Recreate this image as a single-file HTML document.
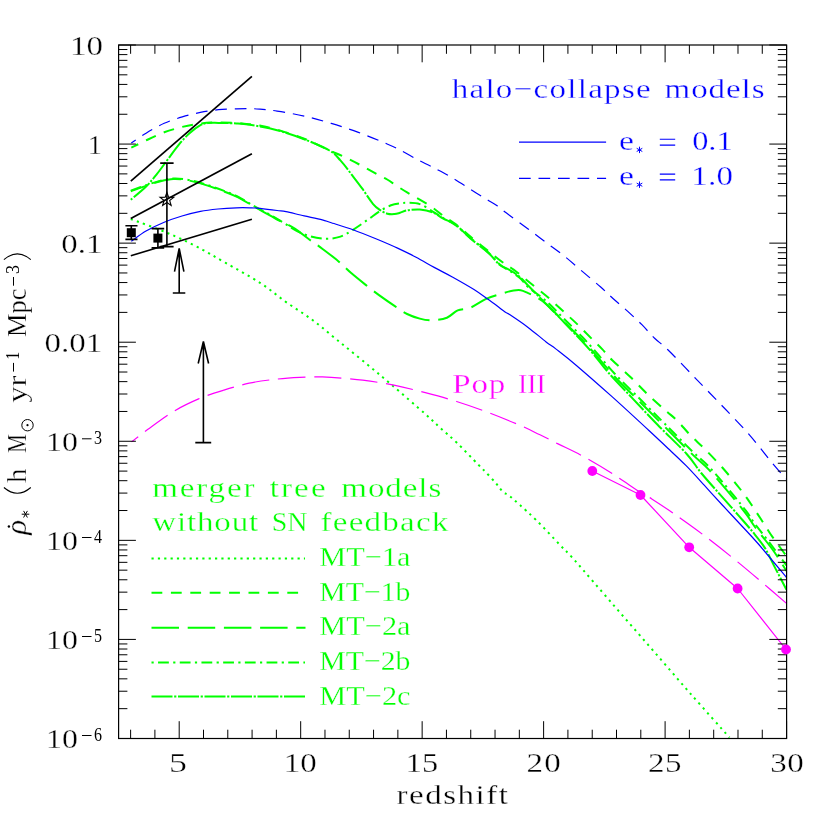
<!DOCTYPE html>
<html><head><meta charset="utf-8"><title>SFR density vs redshift</title>
<style>html,body{margin:0;padding:0;background:#fff}body{width:830px;height:830px;overflow:hidden;font-family:"Liberation Serif",serif}</style></head>
<body>
<svg width="830" height="830" viewBox="0 0 830 830" style="display:block;will-change:transform">
<rect width="830" height="830" fill="#fff"/>
<defs><clipPath id="cp"><rect x="118.6" y="45.0" width="668.0" height="693.5"/></clipPath></defs>
<g fill="none" clip-path="url(#cp)" stroke-linecap="butt" stroke-linejoin="round">
<path d="M130.8,219.0 C137.0,221.3 156.8,228.5 167.8,233.1 C178.8,237.7 187.0,241.6 196.7,246.6 C206.3,251.6 215.1,256.9 225.7,262.9 C236.2,268.9 249.9,276.3 260.0,282.8 C270.1,289.3 277.4,295.9 286.1,302.1 C294.9,308.3 304.1,313.8 312.5,320.0 C320.9,326.2 328.3,332.8 336.7,339.6 C345.1,346.4 353.7,353.3 362.7,360.7 C371.7,368.1 380.5,375.3 390.9,384.2 C401.3,393.1 417.1,406.8 425.3,414.0 C433.5,421.2 434.8,422.9 440.0,427.7 C445.2,432.4 450.2,436.3 456.6,442.5 C463.0,448.7 473.4,459.7 478.6,465.0 C483.8,470.3 484.9,471.2 488.0,474.5 C491.1,477.8 494.5,481.6 497.0,484.5 C499.5,487.4 501.0,490.2 503.0,492.0 C505.0,493.8 506.3,493.4 509.0,495.5 C511.7,497.6 514.7,500.4 519.3,504.5 C523.9,508.6 529.6,513.5 536.4,520.3 C543.2,527.0 553.6,538.3 560.0,545.0 C566.4,551.7 566.1,550.7 575.0,560.7 C583.9,570.7 600.6,590.3 613.5,605.1 C626.4,619.9 639.2,634.6 652.1,649.4 C665.0,664.2 677.7,679.1 690.6,693.8 C703.5,708.5 723.0,730.2 729.5,737.5" stroke="#00ff00" stroke-width="2" stroke-dasharray="2.2 4.3"/>
<path d="M131.3,147.7 C133.8,146.5 140.6,143.0 146.1,140.4 C151.6,137.8 158.2,134.6 164.2,132.3 C170.2,130.1 176.3,128.4 182.3,126.9 C188.3,125.5 194.4,124.3 200.4,123.6 C206.4,122.8 212.4,122.5 218.4,122.4 C224.4,122.3 231.2,122.6 236.5,122.9 C241.8,123.2 246.1,123.8 250.0,124.3 C253.9,124.8 255.5,124.7 260.0,125.6 C264.5,126.5 269.7,127.5 277.1,129.7 C284.5,131.9 295.8,135.4 304.2,138.7 C312.6,142.0 321.1,146.6 327.7,149.6 C334.3,152.6 338.9,154.4 344.0,156.8 C349.1,159.2 353.0,161.1 358.4,164.0 C363.8,166.9 371.7,171.4 376.5,174.0 C381.3,176.6 383.9,177.6 387.2,179.5 C390.5,181.4 393.1,183.5 396.4,185.7 C399.7,187.8 401.7,189.2 407.1,192.4 C412.5,195.6 422.8,201.1 428.8,205.0 C434.8,208.9 438.5,212.3 443.3,215.8 C448.1,219.3 453.2,222.3 457.7,225.8 C462.2,229.3 465.3,232.4 470.4,236.6 C475.5,240.8 483.0,246.8 488.4,251.1 C493.8,255.4 498.7,259.4 502.9,262.5 C507.1,265.6 509.4,266.5 513.6,269.6 C517.8,272.7 522.7,276.9 528.1,281.3 C533.5,285.7 540.1,290.7 546.1,295.8 C552.1,300.9 558.8,307.1 564.2,312.1 C569.6,317.1 573.9,320.9 578.7,325.6 C583.5,330.3 589.2,336.2 593.1,340.1 C597.0,344.0 599.0,345.8 602.2,349.1 C605.4,352.5 607.6,355.6 612.3,360.2 C617.0,364.8 624.4,371.2 630.4,377.0 C636.4,382.8 642.4,389.4 648.4,395.1 C654.4,400.8 661.7,407.1 666.5,411.3 C671.3,415.5 673.2,416.6 677.1,420.5 C681.0,424.4 685.5,430.1 690.0,434.8 C694.5,439.5 698.8,443.1 704.2,448.5 C709.6,453.9 716.2,460.7 722.3,467.5 C728.3,474.3 735.8,483.5 740.5,489.5 C745.2,495.5 747.2,498.6 750.6,503.5 C754.0,508.4 757.3,513.6 760.7,518.8 C764.1,524.0 767.4,529.5 770.8,534.5 C774.2,539.5 778.3,544.9 780.9,548.5 C783.5,552.1 785.6,554.8 786.5,556.0" stroke="#00ff00" stroke-width="2" stroke-dasharray="10.8 8.6" stroke-dashoffset="3"/>
<path d="M130.8,191.2 C133.4,190.3 141.1,187.5 146.1,185.8 C151.1,184.2 156.1,182.4 160.6,181.3 C165.1,180.2 169.1,179.3 173.3,179.1 C177.5,178.9 181.4,179.3 185.9,180.0 C190.4,180.7 195.0,181.8 200.4,183.4 C205.8,185.0 212.4,187.2 218.4,189.4 C224.4,191.6 230.6,193.8 236.5,196.6 C242.4,199.4 248.3,203.4 253.6,206.4 C258.9,209.4 264.1,212.1 268.0,214.3 C271.9,216.5 274.1,217.9 277.1,219.5 C280.1,221.1 283.1,222.1 286.1,223.7 C289.1,225.3 291.3,226.2 295.2,228.9 C299.1,231.6 305.1,236.4 309.6,239.7 C314.1,243.0 317.5,245.1 322.3,248.7 C327.1,252.3 333.8,257.3 338.6,261.4 C343.4,265.5 346.7,269.2 351.2,273.1 C355.7,277.0 360.9,281.1 365.7,284.9 C370.5,288.7 375.3,292.4 380.1,295.9 C384.9,299.4 390.0,302.9 394.5,305.9 C399.0,308.9 402.9,311.9 407.1,314.0 C411.3,316.1 415.6,317.5 419.8,318.6 C424.0,319.7 427.9,320.5 432.4,320.4 C436.9,320.2 442.7,319.4 446.9,317.7 C451.1,316.0 453.8,312.1 457.7,310.4 C461.6,308.7 465.6,309.6 470.4,307.7 C475.2,305.8 481.2,301.1 486.6,298.7 C492.0,296.3 498.4,294.7 502.9,293.3 C507.4,291.9 510.7,291.0 513.7,290.5 C516.7,290.0 518.4,289.8 520.8,290.2 C523.2,290.6 525.7,292.1 528.1,293.1 C530.5,294.2 532.0,294.7 535.0,296.5 C538.0,298.3 541.2,299.8 546.1,304.0 C551.0,308.2 558.2,316.0 564.2,322.0 C570.2,328.0 577.3,334.8 582.3,340.0 C587.3,345.2 588.8,346.9 594.2,353.0 C599.6,359.1 606.9,368.3 614.5,376.5 C622.1,384.7 631.6,393.6 640.0,402.0 C648.4,410.4 656.3,418.3 665.0,427.0 C673.7,435.7 685.0,447.2 692.4,454.4 C699.8,461.6 702.7,463.1 709.3,470.1 C715.9,477.1 726.0,489.2 732.2,496.6 C738.4,504.0 743.0,509.9 746.6,514.7 C750.2,519.5 751.3,521.9 753.9,525.5 C756.5,529.1 758.9,531.9 762.3,536.3 C765.7,540.7 770.3,546.2 774.3,552.0 C778.3,557.8 784.5,567.8 786.5,571.0" stroke="#00ff00" stroke-width="2" stroke-dasharray="27.5 8.7" stroke-dashoffset="11.7"/>
<path d="M130.8,190.6 C133.4,189.7 141.1,186.8 146.1,185.2 C151.1,183.5 156.1,181.8 160.6,180.7 C165.1,179.6 169.1,178.7 173.3,178.5 C177.5,178.3 181.4,178.7 185.9,179.4 C190.4,180.1 195.0,181.2 200.4,182.8 C205.8,184.4 212.4,186.6 218.4,188.8 C224.4,191.0 230.6,193.2 236.5,196.0 C242.4,198.8 248.3,202.9 253.6,205.8 C258.9,208.8 264.1,211.5 268.0,213.7 C271.9,215.9 274.1,217.1 277.1,218.9 C280.1,220.7 283.1,222.4 286.1,224.3 C289.1,226.2 291.3,228.2 295.2,230.2 C299.1,232.2 304.5,234.7 309.6,236.1 C314.7,237.5 320.8,238.7 325.9,238.8 C331.0,238.9 335.9,238.1 340.4,236.6 C344.9,235.1 348.5,232.6 353.0,229.8 C357.5,227.0 363.0,223.1 367.5,219.9 C372.0,216.8 376.2,213.3 380.1,210.9 C384.0,208.5 387.7,206.6 391.0,205.3 C394.3,204.1 397.3,203.8 400.0,203.4 C402.7,203.0 403.8,202.7 407.1,202.8 C410.4,202.9 415.6,202.7 419.8,204.1 C424.0,205.5 428.5,209.0 432.4,211.3 C436.3,213.6 439.4,215.6 443.3,218.0 C447.2,220.4 451.4,222.2 455.9,225.5 C460.4,228.8 465.0,233.5 470.4,238.0 C475.8,242.5 483.6,248.2 488.4,252.5 C493.2,256.8 496.3,261.2 499.3,264.0 C502.3,266.8 504.2,267.5 506.5,269.0 C508.8,270.5 510.6,271.3 513.0,273.0 C515.4,274.7 518.5,276.7 521.0,279.0 C523.5,281.3 523.9,283.3 528.1,287.0 C532.3,290.7 540.1,295.7 546.1,301.0 C552.1,306.3 558.2,313.0 564.2,319.0 C570.2,325.0 577.3,331.8 582.3,337.0 C587.3,342.2 588.8,343.9 594.2,350.0 C599.6,356.1 606.9,365.3 614.5,373.5 C622.1,381.7 631.6,390.6 640.0,399.0 C648.4,407.4 656.3,415.3 665.0,424.0 C673.7,432.7 685.0,444.2 692.4,451.4 C699.8,458.6 702.7,460.1 709.3,467.1 C715.9,474.1 726.0,486.2 732.2,493.6 C738.4,501.0 743.0,506.9 746.6,511.7 C750.2,516.5 751.3,518.9 753.9,522.5 C756.5,526.1 758.9,528.9 762.3,533.3 C765.7,537.7 770.3,543.6 774.3,549.0 C778.3,554.4 784.5,562.8 786.5,565.5" stroke="#00ff00" stroke-width="2" stroke-dasharray="10.8 4.35 2.2 4.35"/>
<path d="M130.8,199.7 C133.4,197.5 141.7,190.8 146.1,186.5 C150.5,182.2 153.4,178.4 157.0,173.9 C160.6,169.4 164.2,164.2 167.8,159.4 C171.4,154.6 175.1,149.3 178.7,144.9 C182.3,140.5 185.9,136.5 189.5,133.2 C193.1,129.9 197.4,126.8 200.4,125.1 C203.4,123.4 204.6,123.5 207.6,123.1 C210.6,122.7 213.6,122.9 218.4,122.9 C223.2,123.0 231.2,123.1 236.5,123.4 C241.8,123.7 243.2,123.7 250.0,124.8 C256.8,125.9 268.1,127.8 277.1,130.2 C286.1,132.6 295.5,135.8 304.2,139.2 C312.9,142.6 323.5,147.0 329.5,150.5 C335.5,154.0 336.8,156.5 340.4,160.4 C344.0,164.3 347.6,169.3 351.2,174.0 C354.8,178.7 358.5,183.4 362.1,188.4 C365.7,193.4 369.9,200.2 372.9,203.8 C375.9,207.4 377.7,208.4 380.1,210.1 C382.5,211.8 385.0,213.0 387.4,213.7 C389.8,214.4 392.5,214.2 394.6,214.1 C396.7,213.9 397.9,213.4 400.0,212.8 C402.1,212.2 403.8,211.0 407.1,210.4 C410.4,209.8 415.6,209.2 419.8,209.5 C424.0,209.8 428.5,210.7 432.4,212.2 C436.3,213.7 439.4,216.5 443.3,218.6 C447.2,220.7 451.4,221.6 455.9,224.9 C460.4,228.2 465.0,233.7 470.4,238.4 C475.8,243.1 483.6,248.5 488.4,252.9 C493.2,257.3 496.3,262.0 499.3,264.6 C502.3,267.2 504.2,267.1 506.5,268.3 C508.8,269.5 510.6,270.4 513.0,272.0 C515.4,273.6 518.5,275.8 521.0,278.0 C523.5,280.2 523.9,281.2 528.1,285.5 C532.3,289.8 540.1,297.8 546.1,304.0 C552.1,310.2 558.2,316.2 564.2,322.5 C570.2,328.8 577.3,336.1 582.3,341.5 C587.3,346.9 589.8,349.8 594.2,355.0 C598.6,360.2 602.4,365.9 608.7,373.0 C615.0,380.1 623.6,388.9 631.8,397.6 C640.0,406.3 648.6,415.6 657.8,425.0 C666.9,434.4 679.5,446.0 686.7,454.0 C693.9,462.0 695.6,466.2 701.2,473.0 C706.8,479.8 713.9,487.6 720.1,494.6 C726.3,501.6 732.8,508.9 738.2,515.1 C743.6,521.3 748.3,526.5 752.7,531.9 C757.1,537.3 761.1,541.9 764.7,547.6 C768.3,553.3 770.6,559.1 774.2,566.1 C777.8,573.1 784.5,585.8 786.5,589.7" stroke="#00ff00" stroke-width="2" stroke-dasharray="21 1.65 2.2 1.65" stroke-dashoffset="22.65"/>
<path d="M131.3,241.2 C133.8,239.5 140.5,234.2 146.0,231.0 C151.5,227.8 158.2,224.7 164.2,222.2 C170.2,219.7 176.0,217.8 182.0,216.0 C188.0,214.2 194.4,212.6 200.4,211.4 C206.4,210.2 212.0,209.6 218.0,209.0 C224.0,208.4 231.2,208.0 236.5,207.8 C241.8,207.6 246.1,207.7 250.0,207.8 C253.9,207.9 255.5,207.9 260.0,208.3 C264.5,208.8 272.8,209.9 277.1,210.5 C281.5,211.1 281.6,210.8 286.1,211.7 C290.6,212.6 298.2,214.6 304.2,215.9 C310.2,217.2 317.8,218.7 322.3,219.8 C326.8,221.0 326.2,221.2 331.3,222.8 C336.4,224.5 345.5,227.0 353.0,229.7 C360.5,232.4 369.0,235.9 376.5,239.0 C384.0,242.1 391.5,245.3 398.1,248.4 C404.7,251.5 410.1,254.1 416.1,257.3 C422.1,260.5 428.2,264.1 434.2,267.4 C440.2,270.7 445.7,273.3 452.3,277.0 C458.9,280.7 468.0,285.8 474.0,289.6 C480.0,293.4 485.1,297.3 488.4,299.6 C491.7,301.9 491.2,301.4 493.9,303.4 C496.6,305.4 502.0,309.9 504.7,311.8 C507.4,313.7 506.1,312.2 510.0,314.8 C513.9,317.4 522.1,322.9 528.1,327.4 C534.1,331.9 541.4,338.3 546.1,341.9 C550.8,345.5 551.1,345.2 556.1,349.1 C561.1,353.0 566.7,357.2 576.1,365.2 C585.5,373.2 600.2,386.1 612.3,396.9 C624.3,407.7 639.1,421.4 648.4,430.0 C657.7,438.6 661.8,442.6 668.1,448.5 C674.4,454.4 680.1,459.6 686.1,465.7 C692.1,471.8 698.2,478.6 704.2,485.2 C710.2,491.8 716.3,498.5 722.3,505.0 C728.3,511.5 734.0,517.5 740.0,524.0 C746.0,530.5 750.6,535.1 758.4,544.0 C766.1,552.9 781.8,571.9 786.5,577.5" stroke="#0000ff" stroke-width="1.2"/>
<path d="M131.3,143.1 C133.8,141.4 140.6,136.5 146.1,133.2 C151.6,129.9 158.2,126.0 164.2,123.3 C170.2,120.6 176.3,118.7 182.3,116.9 C188.3,115.1 194.4,113.6 200.4,112.4 C206.4,111.2 212.4,110.3 218.4,109.7 C224.4,109.1 231.2,109.0 236.5,108.8 C241.8,108.6 246.1,108.5 250.0,108.6 C253.9,108.7 255.5,108.8 260.0,109.2 C264.5,109.6 269.7,109.9 277.1,111.1 C284.5,112.2 295.2,114.0 304.2,116.1 C313.2,118.1 322.3,120.7 331.3,123.4 C340.3,126.1 349.3,129.1 358.4,132.4 C367.4,135.7 379.0,140.5 385.6,143.3 C392.2,146.1 393.0,146.4 398.1,149.0 C403.2,151.6 410.1,155.7 416.1,158.9 C422.1,162.1 428.2,164.8 434.2,168.0 C440.2,171.2 446.3,174.3 452.3,177.9 C458.3,181.5 464.4,185.5 470.4,189.3 C476.4,193.1 483.9,197.7 488.4,200.5 C492.9,203.3 494.5,203.8 497.5,205.9 C500.5,208.0 501.4,209.3 506.5,213.1 C511.6,216.9 521.5,224.0 528.1,228.9 C534.7,233.8 540.1,238.0 546.1,242.5 C552.1,247.0 558.2,251.2 564.2,256.0 C570.2,260.8 576.3,266.3 582.3,271.4 C588.3,276.5 595.3,282.3 600.4,286.8 C605.5,291.3 608.5,294.4 613.0,298.5 C617.5,302.6 622.7,306.7 627.5,311.1 C632.3,315.5 637.4,320.2 641.9,324.7 C646.4,329.2 650.2,334.1 654.6,338.3 C659.0,342.5 661.3,343.4 668.1,350.0 C674.9,356.6 686.2,368.7 695.2,378.0 C704.2,387.3 713.3,396.5 722.3,406.0 C731.3,415.5 741.0,425.2 749.4,434.9 C757.8,444.5 766.7,456.5 772.9,463.9 C779.1,471.3 784.2,476.6 786.5,479.2" stroke="#0000ff" stroke-width="1.2" stroke-dasharray="11.7 7.8" stroke-dashoffset="6.2"/>
<path d="M131.5,441.9 C134.2,439.8 141.0,434.4 148.0,429.3 C155.0,424.2 164.9,416.7 173.3,411.6 C181.7,406.5 190.2,402.5 198.6,398.9 C207.0,395.3 215.5,392.7 223.9,390.1 C232.3,387.5 240.8,385.0 249.2,383.2 C257.6,381.4 266.1,380.4 274.5,379.4 C282.9,378.4 292.2,377.8 299.8,377.4 C307.4,377.0 314.8,376.9 320.0,376.9 C325.2,376.9 324.2,376.8 331.3,377.3 C338.4,377.9 352.2,378.9 362.7,380.2 C373.1,381.5 383.6,383.1 394.0,385.2 C404.4,387.3 414.9,390.0 425.3,392.7 C435.7,395.4 446.2,398.2 456.6,401.5 C467.1,404.8 477.6,408.5 488.0,412.4 C498.4,416.3 510.6,421.3 519.3,425.0 C528.0,428.7 533.5,431.7 540.0,434.8 C546.5,437.9 550.9,440.3 558.1,443.9 C565.3,447.5 574.4,451.5 583.4,456.5 C592.4,461.5 602.8,467.7 612.3,473.7 C621.8,479.7 633.9,488.3 640.5,492.5 C647.1,496.7 646.3,495.4 651.8,498.9 C657.3,502.4 665.1,507.5 673.5,513.4 C681.9,519.3 692.8,527.0 702.4,534.2 C712.0,541.4 722.0,549.3 731.3,556.8 C740.6,564.3 749.2,571.5 758.4,579.3 C767.6,587.1 781.8,599.4 786.5,603.4" stroke="#ff00ff" stroke-width="1.2" stroke-dasharray="27.5 8.7" stroke-dashoffset="19"/>
<path d="M592.3,471 L640.5,495 L689.2,547.3 L737.6,588.5 L786,649.5" stroke="#ff00ff" stroke-width="1.2"/>
</g>
<g stroke="#000" stroke-width="1.7" fill="none">
<path d="M130.8,181.2 L251.9,76.3"/>
<path d="M130.8,218.6 L251.9,153.8"/>
<path d="M130.8,255.7 L251.9,219.2"/>
</g>
<g stroke="#000" stroke-width="1.6" fill="none">
<path d="M131.3,225.8V239.4M125.4,225.8H137.5M125.4,239.4H137.5"/>
<path d="M157.9,228.6V247.9M151.6,228.6H164.2M151.6,247.9H164.2"/>
<path d="M166.9,163.1V246.6M160.2,163.1H173.6M160.2,246.6H173.6"/>
<path d="M179.2,293V249M172.8,293H185.3M174.5,271.6L179.2,248.4L183.9,271.6"/>
<path d="M203.4,442.6V342M195.3,442.6H211.2M198.2,363.5L203.4,341.5L208.6,363.5"/>
</g>
<rect x="126.8" y="228.2" width="9" height="9" fill="#000"/>
<rect x="153.4" y="233.6" width="9" height="9" fill="#000"/>
<polygon points="166.90,192.40 168.60,197.25 173.75,197.38 169.66,200.50 171.13,205.42 166.90,202.50 162.67,205.42 164.14,200.50 160.05,197.38 165.20,197.25" fill="none" stroke="#000" stroke-width="1.1"/>
<path d="M130.61,45.0v8.8M130.61,738.5v-8.8M154.90,45.0v8.8M154.90,738.5v-8.8M179.20,45.0v17.3M179.20,738.5v-17.3M203.50,45.0v8.8M203.50,738.5v-8.8M227.79,45.0v8.8M227.79,738.5v-8.8M252.08,45.0v8.8M252.08,738.5v-8.8M276.38,45.0v8.8M276.38,738.5v-8.8M300.68,45.0v17.3M300.68,738.5v-17.3M324.97,45.0v8.8M324.97,738.5v-8.8M349.26,45.0v8.8M349.26,738.5v-8.8M373.56,45.0v8.8M373.56,738.5v-8.8M397.86,45.0v8.8M397.86,738.5v-8.8M422.15,45.0v17.3M422.15,738.5v-17.3M446.44,45.0v8.8M446.44,738.5v-8.8M470.74,45.0v8.8M470.74,738.5v-8.8M495.04,45.0v8.8M495.04,738.5v-8.8M519.33,45.0v8.8M519.33,738.5v-8.8M543.62,45.0v17.3M543.62,738.5v-17.3M567.92,45.0v8.8M567.92,738.5v-8.8M592.22,45.0v8.8M592.22,738.5v-8.8M616.51,45.0v8.8M616.51,738.5v-8.8M640.81,45.0v8.8M640.81,738.5v-8.8M665.10,45.0v17.3M665.10,738.5v-17.3M689.39,45.0v8.8M689.39,738.5v-8.8M713.69,45.0v8.8M713.69,738.5v-8.8M737.99,45.0v8.8M737.99,738.5v-8.8M762.28,45.0v8.8M762.28,738.5v-8.8M786.58,45.0v17.3M786.58,738.5v-17.3M118.6,738.49h17.3M786.6,738.49h-17.3M118.6,708.67h8.8M786.6,708.67h-8.8M118.6,691.22h8.8M786.6,691.22h-8.8M118.6,678.84h8.8M786.6,678.84h-8.8M118.6,669.24h8.8M786.6,669.24h-8.8M118.6,661.40h8.8M786.6,661.40h-8.8M118.6,654.77h8.8M786.6,654.77h-8.8M118.6,649.02h8.8M786.6,649.02h-8.8M118.6,643.95h8.8M786.6,643.95h-8.8M118.6,639.42h17.3M786.6,639.42h-17.3M118.6,609.60h8.8M786.6,609.60h-8.8M118.6,592.15h8.8M786.6,592.15h-8.8M118.6,579.77h8.8M786.6,579.77h-8.8M118.6,570.17h8.8M786.6,570.17h-8.8M118.6,562.33h8.8M786.6,562.33h-8.8M118.6,555.70h8.8M786.6,555.70h-8.8M118.6,549.95h8.8M786.6,549.95h-8.8M118.6,544.88h8.8M786.6,544.88h-8.8M118.6,540.35h17.3M786.6,540.35h-17.3M118.6,510.53h8.8M786.6,510.53h-8.8M118.6,493.08h8.8M786.6,493.08h-8.8M118.6,480.70h8.8M786.6,480.70h-8.8M118.6,471.10h8.8M786.6,471.10h-8.8M118.6,463.26h8.8M786.6,463.26h-8.8M118.6,456.63h8.8M786.6,456.63h-8.8M118.6,450.88h8.8M786.6,450.88h-8.8M118.6,445.81h8.8M786.6,445.81h-8.8M118.6,441.28h17.3M786.6,441.28h-17.3M118.6,411.46h8.8M786.6,411.46h-8.8M118.6,394.01h8.8M786.6,394.01h-8.8M118.6,381.63h8.8M786.6,381.63h-8.8M118.6,372.03h8.8M786.6,372.03h-8.8M118.6,364.19h8.8M786.6,364.19h-8.8M118.6,357.56h8.8M786.6,357.56h-8.8M118.6,351.81h8.8M786.6,351.81h-8.8M118.6,346.74h8.8M786.6,346.74h-8.8M118.6,342.21h17.3M786.6,342.21h-17.3M118.6,312.39h8.8M786.6,312.39h-8.8M118.6,294.94h8.8M786.6,294.94h-8.8M118.6,282.56h8.8M786.6,282.56h-8.8M118.6,272.96h8.8M786.6,272.96h-8.8M118.6,265.12h8.8M786.6,265.12h-8.8M118.6,258.49h8.8M786.6,258.49h-8.8M118.6,252.74h8.8M786.6,252.74h-8.8M118.6,247.67h8.8M786.6,247.67h-8.8M118.6,243.14h17.3M786.6,243.14h-17.3M118.6,213.32h8.8M786.6,213.32h-8.8M118.6,195.87h8.8M786.6,195.87h-8.8M118.6,183.49h8.8M786.6,183.49h-8.8M118.6,173.89h8.8M786.6,173.89h-8.8M118.6,166.05h8.8M786.6,166.05h-8.8M118.6,159.42h8.8M786.6,159.42h-8.8M118.6,153.67h8.8M786.6,153.67h-8.8M118.6,148.60h8.8M786.6,148.60h-8.8M118.6,144.07h17.3M786.6,144.07h-17.3M118.6,114.25h8.8M786.6,114.25h-8.8M118.6,96.80h8.8M786.6,96.80h-8.8M118.6,84.42h8.8M786.6,84.42h-8.8M118.6,74.82h8.8M786.6,74.82h-8.8M118.6,66.98h8.8M786.6,66.98h-8.8M118.6,60.35h8.8M786.6,60.35h-8.8M118.6,54.60h8.8M786.6,54.60h-8.8M118.6,49.53h8.8M786.6,49.53h-8.8M118.6,45.00h17.3M786.6,45.00h-17.3" stroke="#000" stroke-width="1" fill="none"/>
<rect x="118.6" y="45.0" width="668.0" height="693.5" fill="none" stroke="#000" stroke-width="1.2"/>
<circle cx="592.3" cy="471" r="4.9" fill="#ff00ff"/>
<circle cx="640.5" cy="495" r="4.9" fill="#ff00ff"/>
<circle cx="689.2" cy="547.3" r="4.9" fill="#ff00ff"/>
<circle cx="737.6" cy="588.5" r="4.9" fill="#ff00ff"/>
<circle cx="786" cy="649.5" r="4.9" fill="#ff00ff"/>
<g font-family="Liberation Serif, serif" stroke="#fff" stroke-width="0.3">
<path d="M82,438.8h9.5" stroke="#000" stroke-width="1" fill="none"/>
<text transform="translate(94,443.79999999999995) scale(0.842,1)" font-size="19" fill="#000" stroke="none">3</text>
<path d="M82,537.5h9.5" stroke="#000" stroke-width="1" fill="none"/>
<text transform="translate(94,542.5) scale(0.842,1)" font-size="19" fill="#000" stroke="none">4</text>
<path d="M82,636.5h9.5" stroke="#000" stroke-width="1" fill="none"/>
<text transform="translate(94,641.5) scale(0.842,1)" font-size="19" fill="#000" stroke="none">5</text>
<path d="M82,735.5h9.5" stroke="#000" stroke-width="1" fill="none"/>
<text transform="translate(94,740.5) scale(0.842,1)" font-size="19" fill="#000" stroke="none">6</text>
<path d="M639.5,146.70000000000002v6.4M636.7,148.3l5.6,3.2M636.7,151.5l5.6,-3.2" stroke="#0000ff" stroke-width="1" fill="none"/>
<path d="M659.8,139.3h15.4M659.8,145.1h15.4" stroke="#0000ff" stroke-width="1.1" fill="none"/>
<path d="M639.5,181.5v6.4M636.7,183.1l5.6,3.2M636.7,186.29999999999998l5.6,-3.2" stroke="#0000ff" stroke-width="1" fill="none"/>
<path d="M659.8,174.1h15.4M659.8,179.9h15.4" stroke="#0000ff" stroke-width="1.1" fill="none"/>
<text transform="translate(168.9,771.7) scale(1.305,1)" font-size="27.5" fill="#000" >5</text>
<text transform="translate(283.8,771.7) scale(1.197,1)" font-size="27.5" fill="#000" textLength="27.50" lengthAdjust="spacingAndGlyphs" >10</text>
<text transform="translate(405.75,771.7) scale(1.177,1)" font-size="27.5" fill="#000" textLength="27.50" lengthAdjust="spacingAndGlyphs" >15</text>
<text transform="translate(526.6,771.7) scale(1.200,1)" font-size="27.5" fill="#000" textLength="28.43" lengthAdjust="spacing" >20</text>
<text transform="translate(648.0,771.7) scale(1.200,1)" font-size="27.5" fill="#000" textLength="27.95" lengthAdjust="spacing" >25</text>
<text transform="translate(770.35,771.7) scale(1.200,1)" font-size="27.5" fill="#000" textLength="27.76" lengthAdjust="spacing" >30</text>
<text transform="translate(396.5,804.2) scale(1.200,1)" font-size="27.5" fill="#000" textLength="92.90" lengthAdjust="spacing" >redshift</text>
<text transform="translate(70.0,54.8) scale(1.198,1)" font-size="27.5" fill="#000" textLength="27.50" lengthAdjust="spacingAndGlyphs" >10</text>
<text transform="translate(88.1,153.8) scale(1.003,1)" font-size="27.5" fill="#000" >1</text>
<text transform="translate(61.35,252.5) scale(1.193,1)" font-size="27.5" fill="#000" textLength="34.38" lengthAdjust="spacingAndGlyphs" >0.1</text>
<text transform="translate(44.6,351.8) scale(1.198,1)" font-size="27.5" fill="#000" textLength="48.12" lengthAdjust="spacingAndGlyphs" >0.01</text>
<text transform="translate(46.05,451.4) scale(1.160,1)" font-size="27.5" fill="#000" textLength="27.50" lengthAdjust="spacingAndGlyphs" >10</text>
<text transform="translate(46.05,550.1) scale(1.160,1)" font-size="27.5" fill="#000" textLength="27.50" lengthAdjust="spacingAndGlyphs" >10</text>
<text transform="translate(46.05,649.1) scale(1.160,1)" font-size="27.5" fill="#000" textLength="27.50" lengthAdjust="spacingAndGlyphs" >10</text>
<text transform="translate(46.05,748.1) scale(1.160,1)" font-size="27.5" fill="#000" textLength="27.50" lengthAdjust="spacingAndGlyphs" >10</text>
<text transform="translate(451.65,98.2) scale(1.200,1)" font-size="27.5" fill="#0000ff" textLength="165.89" lengthAdjust="spacing" >halo−collapse</text>
<text transform="translate(664.55,98.2) scale(1.200,1)" font-size="27.5" fill="#0000ff" textLength="83.31" lengthAdjust="spacing" >models</text>
<text transform="translate(619.0,149.9) scale(1.223,1)" font-size="27.5" fill="#0000ff" >e</text>
<text transform="translate(692.15,149.9) scale(1.178,1)" font-size="27.5" fill="#0000ff" textLength="34.38" lengthAdjust="spacingAndGlyphs" >0.1</text>
<text transform="translate(619.0,184.7) scale(1.223,1)" font-size="27.5" fill="#0000ff" >e</text>
<text transform="translate(691.3,184.7) scale(1.200,1)" font-size="27.5" fill="#0000ff" textLength="34.81" lengthAdjust="spacing" >1.0</text>
<text transform="translate(452.35,392.5) scale(1.200,1)" font-size="27.5" fill="#ff00ff" textLength="44.14" lengthAdjust="spacing" >Pop</text>
<text transform="translate(518.0,392.5) scale(1.009,1)" font-size="27.5" fill="#ff00ff" textLength="27.47" lengthAdjust="spacingAndGlyphs" >III</text>
<text transform="translate(152.3,496.8) scale(1.200,1)" font-size="27.5" fill="#00ff00" textLength="85.10" lengthAdjust="spacing" >merger</text>
<text transform="translate(269.65,496.8) scale(1.200,1)" font-size="27.5" fill="#00ff00" textLength="46.59" lengthAdjust="spacing" >tree</text>
<text transform="translate(341.3,496.8) scale(1.200,1)" font-size="27.5" fill="#00ff00" textLength="83.29" lengthAdjust="spacing" >models</text>
<text transform="translate(152.3,530.6) scale(1.200,1)" font-size="27.5" fill="#00ff00" textLength="88.28" lengthAdjust="spacing" >without</text>
<text transform="translate(271.65,530.6) scale(1.016,1)" font-size="27.5" fill="#00ff00" textLength="35.15" lengthAdjust="spacingAndGlyphs" >SN</text>
<text transform="translate(320.6,530.6) scale(1.200,1)" font-size="27.5" fill="#00ff00" textLength="106.38" lengthAdjust="spacing" >feedback</text>
<text transform="translate(319.3,566.0) scale(1.103,1)" font-size="27.5" fill="#00ff00" textLength="82.71" lengthAdjust="spacingAndGlyphs" >MT−1a</text>
<text transform="translate(319.3,600.7) scale(1.082,1)" font-size="27.5" fill="#00ff00" textLength="84.26" lengthAdjust="spacingAndGlyphs" >MT−1b</text>
<text transform="translate(319.3,635.4) scale(1.103,1)" font-size="27.5" fill="#00ff00" textLength="82.71" lengthAdjust="spacingAndGlyphs" >MT−2a</text>
<text transform="translate(319.3,670.2) scale(1.082,1)" font-size="27.5" fill="#00ff00" textLength="84.26" lengthAdjust="spacingAndGlyphs" >MT−2b</text>
<text transform="translate(319.3,704.9) scale(1.103,1)" font-size="27.5" fill="#00ff00" textLength="82.71" lengthAdjust="spacingAndGlyphs" >MT−2c</text>
<g transform="translate(26.1,535) rotate(-90)">
<text transform="translate(0.3,0) scale(1.071,1)" font-size="29" fill="#000" font-style="italic">ρ</text>
<circle cx="8.5" cy="-17.2" r="1.2" fill="#000" stroke="none"/>
<path d="M20.8,-4.4v7.6M17.5,-2.5l6.6,3.8M17.5,1.3l6.6,-3.8" stroke="#000" stroke-width="1" fill="none"/>
<path d="M47.5,-22.2Q36.1,-8.75 47.5,4.7M275.4,-22.2Q286.8,-8.75 275.4,4.7" stroke="#000" stroke-width="1.1" fill="none"/>
<text transform="translate(51.9,0) scale(1.055,1)" font-size="27.5" fill="#000" >h</text>
<text transform="translate(82.3,0) scale(0.757,1)" font-size="27.5" fill="#000" >M</text>
<circle cx="109.8" cy="1.4" r="5.7" fill="none" stroke="#000" stroke-width="1"/><circle cx="109.8" cy="1.4" r="1.1" fill="#000" stroke="none"/>
<text transform="translate(132.3,0) scale(1.187,1)" font-size="27.5" fill="#000" textLength="22.91" lengthAdjust="spacingAndGlyphs" >yr</text>
<path d="M163.4,-12.6h8.7M249.3,-12.6h8.7" stroke="#000" stroke-width="1" fill="none"/>
<text transform="translate(175.2,-7.6) scale(0.842,1)" font-size="19" fill="#000" stroke="none">1</text>
<text transform="translate(198.1,0) scale(0.958,1)" font-size="27.5" fill="#000" textLength="50.41" lengthAdjust="spacingAndGlyphs" >Mpc</text>
<text transform="translate(261,-6.8) scale(0.923,1)" font-size="19.5" fill="#000" stroke="none">3</text>
</g>
</g>
<g fill="none">
<path d="M519,142.2H606.1" stroke="#0000ff" stroke-width="1.2"/>
<path d="M519,178.3H606.1" stroke="#0000ff" stroke-width="1.2" stroke-dasharray="11.7 7.8"/>
<path d="M151.5,558.4H305" stroke="#00ff00" stroke-width="2" stroke-dasharray="2.2 4.15"/>
<path d="M151.5,592.7H299.2" stroke="#00ff00" stroke-width="2" stroke-dasharray="10.8 8.6"/>
<path d="M151.5,627.8H305.5" stroke="#00ff00" stroke-width="2" stroke-dasharray="27.5 8.7"/>
<path d="M151.5,662.5H305" stroke="#00ff00" stroke-width="2" stroke-dasharray="2.2 4.35 10.8 4.35"/>
<path d="M151.5,696.6H305" stroke="#00ff00" stroke-width="2" stroke-dasharray="21 1.65 2.2 1.65"/>
</g>
</svg>
</body></html>
